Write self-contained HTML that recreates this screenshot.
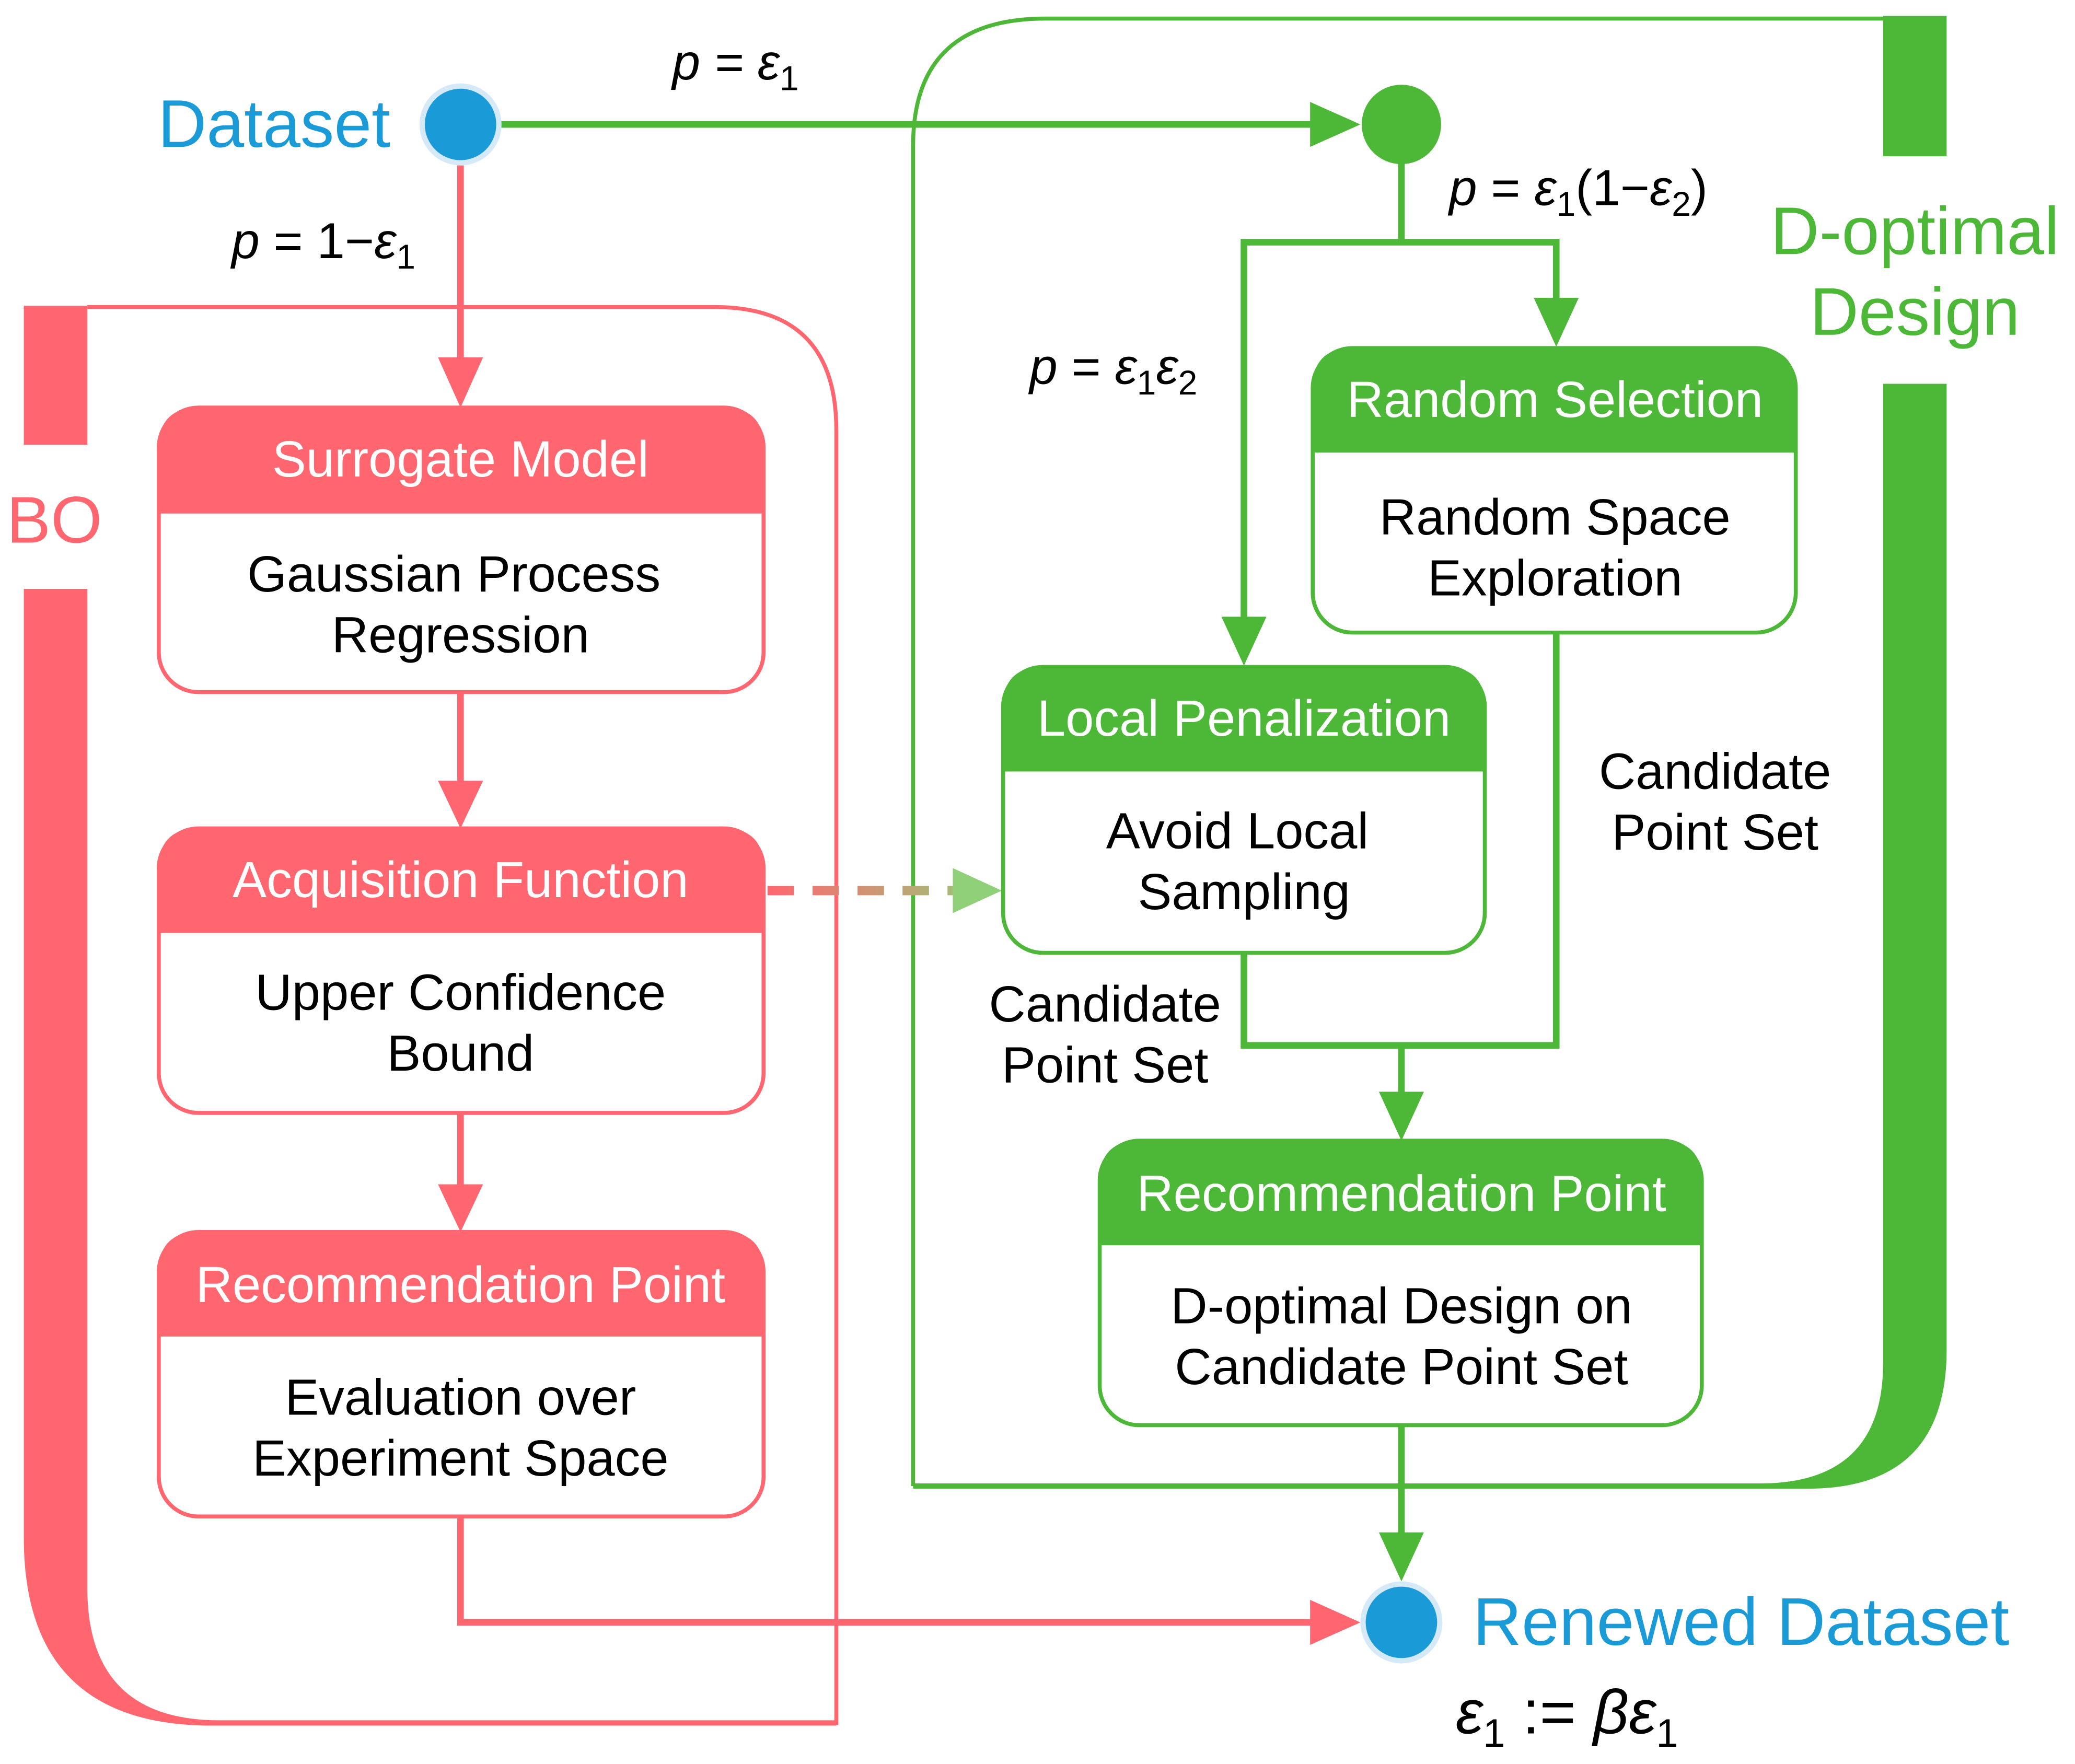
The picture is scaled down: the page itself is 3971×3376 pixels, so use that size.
<!DOCTYPE html>
<html><head><meta charset="utf-8"><style>
html,body{margin:0;padding:0;background:#fff}
svg{display:block}
text{font-family:"Liberation Sans",sans-serif}
</style></head><body>
<svg width="3971" height="3376" viewBox="0 0 1568 1333" xmlns="http://www.w3.org/2000/svg">
<defs>
<linearGradient id="g" x1="580" y1="0" x2="757" y2="0" gradientUnits="userSpaceOnUse">
<stop offset="0" stop-color="#FF6670"/><stop offset="1" stop-color="#8FD078"/></linearGradient>
</defs>
<rect x="18" y="231" width="48" height="105" fill="#FF6670"/>
<path d="M66 232 H540 Q632 232 632 325 V1302 H160" fill="none" stroke="#FF6670" stroke-width="3"/>
<path d="M18 445 H66 V1200 Q66 1300 166 1300 H632 V1304 H160 Q18 1304 18 1162 Z" fill="#FF6670"/>
<text x="5" y="410" font-size="50" fill="#FF6670">BO</text>
<path d="M690 1123 V110 Q690 14 790 14 H1423" fill="none" stroke="#4DB837" stroke-width="3"/>
<rect x="1423" y="12" width="48" height="106" fill="#4DB837"/>
<path d="M1423 290 H1471 V1020 Q1471 1125 1366 1125 H690 V1121 H1330 Q1423 1121 1423 1030 Z" fill="#4DB837"/>
<text x="1447" y="192" font-size="51" fill="#4DB837" text-anchor="middle">D-optimal</text>
<text x="1447" y="253" font-size="51" fill="#4DB837" text-anchor="middle">Design</text>
<text x="295" y="111" font-size="51" fill="#1A9BD7" text-anchor="end">Dataset</text>
<line x1="378" y1="94" x2="995" y2="94" stroke="#4DB837" stroke-width="5"/>
<polygon points="990,77 1028,94 990,111" fill="#4DB837"/>
<circle cx="348" cy="94" r="31" fill="#D6E9F7"/><circle cx="348" cy="94" r="27" fill="#1A9BD7"/>
<circle cx="1059" cy="94" r="30" fill="#4DB837"/>
<text x="508" y="60" font-size="38" font-style="italic">p = ε<tspan font-size="26" dy="8" font-style="normal">1</tspan></text>
<line x1="348" y1="125" x2="348" y2="275" stroke="#FF6670" stroke-width="5"/>
<polygon points="331,270 348,308 365,270" fill="#FF6670"/>
<text x="175" y="195" font-size="38"><tspan font-style="italic">p</tspan> = 1−<tspan font-style="italic">ε</tspan><tspan font-size="26" dy="8">1</tspan></text>
<g stroke="#FF6670" stroke-width="3">
<rect x="120" y="308" width="457" height="215" rx="30" fill="#fff"/>
<rect x="120" y="626" width="457" height="215" rx="30" fill="#fff"/>
<rect x="120" y="931" width="457" height="215" rx="30" fill="#fff"/>
</g>
<g fill="#FF6670">
<path d="M120 388 V338 Q120 308 150 308 H547 Q577 308 577 338 V388 Z"/>
<path d="M120 705 V656 Q120 626 150 626 H547 Q577 626 577 656 V705 Z"/>
<path d="M120 1010 V961 Q120 931 150 931 H547 Q577 931 577 961 V1010 Z"/>
</g>
<g font-size="38.5" text-anchor="middle">
<text x="348" y="360" fill="#fff">Surrogate Model</text>
<text x="343" y="447">Gaussian Process</text>
<text x="348" y="493">Regression</text>
<text x="348" y="678" fill="#fff">Acquisition Function</text>
<text x="348" y="763">Upper Confidence</text>
<text x="348" y="809">Bound</text>
<text x="348" y="984" fill="#fff">Recommendation Point</text>
<text x="348" y="1069">Evaluation over</text>
<text x="348" y="1115">Experiment Space</text>
</g>
<g stroke="#FF6670" stroke-width="5" fill="none">
<line x1="348" y1="523" x2="348" y2="592"/>
<line x1="348" y1="841" x2="348" y2="897"/>
<polyline points="348,1146 348,1226 995,1226"/>
</g>
<g fill="#FF6670">
<polygon points="331,590 348,626 365,590"/>
<polygon points="331,895 348,931 365,895"/>
<polygon points="990,1209 1028,1226 990,1243"/>
</g>
<line x1="580" y1="673" x2="720" y2="673" stroke="url(#g)" stroke-width="7" stroke-dasharray="20,14"/>
<polygon points="720,656 757,673 720,690" fill="#8FD078"/>
<g stroke="#4DB837" stroke-width="5" fill="none">
<polyline points="1059,120 1059,183"/>
<polyline points="940,470 940,183 1176,183 1176,228"/>
<polyline points="940,720 940,790 1176,790 1176,478"/>
<line x1="1059" y1="790" x2="1059" y2="828"/>
<line x1="1059" y1="1077" x2="1059" y2="1162"/>
</g>
<g fill="#4DB837">
<polygon points="923,466 940,503 957,466"/>
<polygon points="1159,225 1176,262 1193,225"/>
<polygon points="1042,825 1059,862 1076,825"/>
<polygon points="1042,1158 1059,1195 1076,1158"/>
</g>
<text x="1095" y="155" font-size="38"><tspan font-style="italic">p</tspan> = <tspan font-style="italic">ε</tspan><tspan font-size="26" dy="8">1</tspan><tspan dy="-8">(1−</tspan><tspan font-style="italic">ε</tspan><tspan font-size="26" dy="8">2</tspan><tspan dy="-8">)</tspan></text>
<text x="778" y="290" font-size="38"><tspan font-style="italic">p</tspan> = <tspan font-style="italic">ε</tspan><tspan font-size="26" dy="8">1</tspan><tspan font-style="italic" dy="-8">ε</tspan><tspan font-size="26" dy="8">2</tspan></text>
<g stroke="#4DB837" stroke-width="3">
<rect x="992" y="263" width="365" height="215" rx="30" fill="#fff"/>
<rect x="758" y="504" width="364" height="216" rx="30" fill="#fff"/>
<rect x="831" y="862" width="455" height="215" rx="30" fill="#fff"/>
</g>
<g fill="#4DB837">
<path d="M992 342 V293 Q992 263 1022 263 H1327 Q1357 263 1357 293 V342 Z"/>
<path d="M758 583 V534 Q758 504 788 504 H1092 Q1122 504 1122 534 V583 Z"/>
<path d="M831 941 V892 Q831 862 861 862 H1256 Q1286 862 1286 892 V941 Z"/>
</g>
<g font-size="38.5" text-anchor="middle">
<text x="1175" y="315" fill="#fff">Random Selection</text>
<text x="1175" y="404">Random Space</text>
<text x="1175" y="450">Exploration</text>
<text x="940" y="556" fill="#fff">Local Penalization</text>
<text x="935" y="641">Avoid Local</text>
<text x="940" y="687">Sampling</text>
<text x="1059" y="915" fill="#fff">Recommendation Point</text>
<text x="1059" y="1000">D-optimal Design on</text>
<text x="1059" y="1046">Candidate Point Set</text>
<text x="1296" y="596">Candidate</text>
<text x="1296" y="642">Point Set</text>
<text x="835" y="772">Candidate</text>
<text x="835" y="818">Point Set</text>
</g>
<circle cx="1059" cy="1226" r="31" fill="#D6E9F7"/><circle cx="1059" cy="1226" r="27" fill="#1A9BD7"/>
<text x="1113" y="1243" font-size="51" fill="#1A9BD7">Renewed Dataset</text>
<text x="1100" y="1310" font-size="47" font-style="italic">ε<tspan font-size="30" dy="10" font-style="normal">1</tspan><tspan dy="-10" font-style="normal"> := </tspan>βε<tspan font-size="30" dy="10" font-style="normal">1</tspan></text>
</svg>
</body></html>
